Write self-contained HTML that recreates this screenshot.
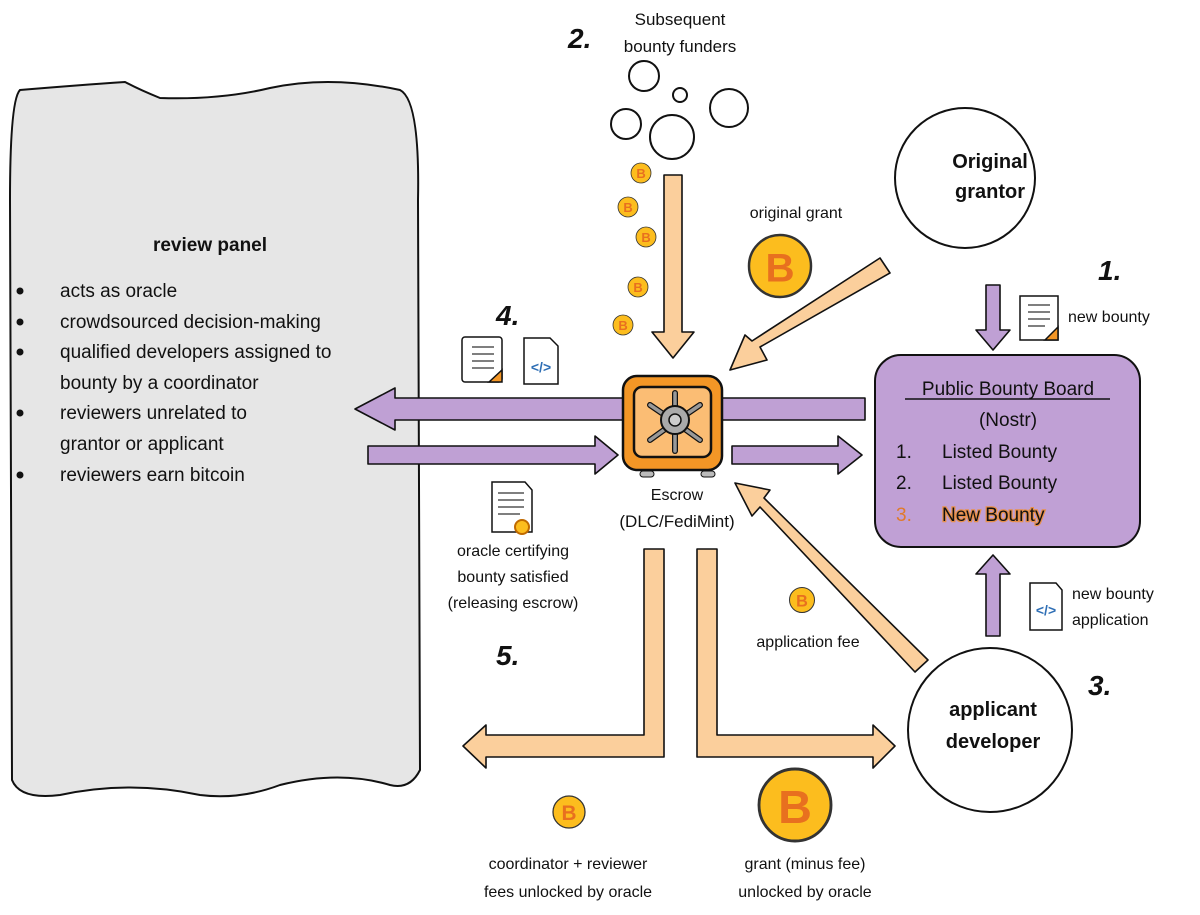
<!DOCTYPE html>
<html><head><meta charset="utf-8"><style>
html,body{margin:0;padding:0;background:#fff;}
svg{display:block;}
text{font-family:"Liberation Sans",sans-serif;fill:#111;}
</style></head><body>
<svg width="1200" height="915" viewBox="0 0 1200 915" xmlns="http://www.w3.org/2000/svg">
<defs>
<g id="coin"><circle r="10" fill="#fcbd1e" stroke="#333" stroke-width="0.8"/><text x="0" y="5" font-size="13" text-anchor="middle" font-weight="bold" style="fill:#e8701f">B</text></g>
</defs>
<path d="M20,90 Q80,85 125,82 Q140,90 160,98 Q220,100 270,88 Q330,75 400,90 Q420,100 418,200 L420,770 Q410,790 390,785 Q340,770 280,785 Q240,800 200,795 Q130,780 60,795 Q20,800 12,780 L10,200 Q10,100 20,90 Z" fill="#e6e6e6" stroke="#111" stroke-width="2"/>
<text x="210" y="251" font-size="19" text-anchor="middle" font-weight="bold">review panel</text>
<g font-size="19">
<circle cx="20" cy="291" r="3.5" fill="#111"/><text x="60" y="297">acts as oracle</text>
<circle cx="20" cy="322" r="3.5" fill="#111"/><text x="60" y="328">crowdsourced decision-making</text>
<circle cx="20" cy="352" r="3.5" fill="#111"/><text x="60" y="358">qualified developers assigned to</text>
<text x="60" y="389">bounty by a coordinator</text>
<circle cx="20" cy="413" r="3.5" fill="#111"/><text x="60" y="419">reviewers unrelated to</text>
<text x="60" y="450">grantor or applicant</text>
<circle cx="20" cy="475" r="3.5" fill="#111"/><text x="60" y="481">reviewers earn bitcoin</text>
</g>
<text x="680" y="25" font-size="17" text-anchor="middle">Subsequent</text>
<text x="680" y="52" font-size="17" text-anchor="middle">bounty funders</text>
<text x="568" y="48" font-size="28" font-weight="bold" font-style="italic">2.</text>
<g fill="none" stroke="#111" stroke-width="2">
<circle cx="644" cy="76" r="15"/><circle cx="680" cy="95" r="7"/><circle cx="729" cy="108" r="19"/><circle cx="626" cy="124" r="15"/><circle cx="672" cy="137" r="22"/>
</g>
<circle cx="965" cy="178" r="70" fill="#fff" stroke="#111" stroke-width="2"/>
<text x="990" y="168" font-size="20" text-anchor="middle" font-weight="bold">Original</text>
<text x="990" y="198" font-size="20" text-anchor="middle" font-weight="bold">grantor</text>
<text x="1098" y="280" font-size="28" font-weight="bold" font-style="italic">1.</text>
<circle cx="990" cy="730" r="82" fill="#fff" stroke="#111" stroke-width="2"/>
<text x="993" y="716" font-size="20" text-anchor="middle" font-weight="bold">applicant</text>
<text x="993" y="748" font-size="20" text-anchor="middle" font-weight="bold">developer</text>
<text x="1088" y="695" font-size="28" font-weight="bold" font-style="italic">3.</text>
<g fill="#fbcf9c" stroke="#111" stroke-width="1.6" stroke-linejoin="round">
<path d="M664,175 L682,175 L682,332 L694,332 L673,358 L652,332 L664,332 Z"/>
<path d="M880,258 L890,273 L760,347 L767,360 L730,370 L745,335 L752,341 Z"/>
<path d="M928,660 L915,672 L760,507 L752,516 L735,483 L770,490 L764,498 Z"/>
<path d="M644,549 L664,549 L664,757 L486,757 L486,768 L463,746 L486,725 L486,735 L644,735 Z"/>
<path d="M697,549 L717,549 L717,735 L873,735 L873,725 L895,746 L873,768 L873,757 L697,757 Z"/>
</g>
<g fill="#bfa0d4" stroke="#111" stroke-width="1.6" stroke-linejoin="round">
<path d="M865,398 L865,420 L395,420 L395,430 L355,409 L395,388 L395,398 Z"/>
<path d="M368,446 L595,446 L595,436 L618,455 L595,474 L595,464 L368,464 Z"/>
<path d="M732,446 L838,446 L838,436 L862,455 L838,474 L838,464 L732,464 Z"/>
<path d="M986,285 L1000,285 L1000,330 L1010,330 L993,350 L976,330 L986,330 Z"/>
<path d="M986,636 L1000,636 L1000,574 L1010,574 L993,555 L976,574 L986,574 Z"/>
</g>
<rect x="875" y="355" width="265" height="192" rx="26" fill="#c0a0d5" stroke="#111" stroke-width="2"/>
<text x="1008" y="395" font-size="19" text-anchor="middle">Public Bounty Board</text>
<line x1="905" y1="399" x2="1110" y2="399" stroke="#111" stroke-width="1.5"/>
<text x="1008" y="426" font-size="19" text-anchor="middle">(Nostr)</text>
<text x="896" y="458" font-size="19">1.</text><text x="942" y="458" font-size="19">Listed Bounty</text>
<text x="896" y="489" font-size="19">2.</text><text x="942" y="489" font-size="19">Listed Bounty</text>
<text x="896" y="521" font-size="19" style="fill:#e07a2a">3.</text><text x="942" y="521" font-size="19" stroke="#e8904a" stroke-width="2.5" paint-order="stroke">New Bounty</text>
<rect x="623" y="376" width="99" height="94" rx="14" fill="#f39626" stroke="#111" stroke-width="2.5"/>
<rect x="634" y="387" width="77" height="70" rx="8" fill="#fbbd74" stroke="#111" stroke-width="2.5"/>
<rect x="640" y="471" width="14" height="6" rx="3" fill="#bbb" stroke="#111"/>
<rect x="701" y="471" width="14" height="6" rx="3" fill="#bbb" stroke="#111"/>
<g stroke="#111" stroke-width="6" stroke-linecap="round"><line x1="675" y1="422" x2="675" y2="393"/><line x1="675" y1="422" x2="675" y2="451"/><line x1="675" y1="422" x2="650" y2="405"/><line x1="675" y1="422" x2="700" y2="405"/><line x1="675" y1="422" x2="650" y2="440"/><line x1="675" y1="422" x2="700" y2="440"/></g>
<g stroke="#999" stroke-width="3.5" stroke-linecap="round"><line x1="675" y1="422" x2="675" y2="393"/><line x1="675" y1="422" x2="675" y2="451"/><line x1="675" y1="422" x2="650" y2="405"/><line x1="675" y1="422" x2="700" y2="405"/><line x1="675" y1="422" x2="650" y2="440"/><line x1="675" y1="422" x2="700" y2="440"/></g>
<circle cx="675" cy="420" r="14" fill="#aaa" stroke="#111" stroke-width="2"/>
<circle cx="675" cy="420" r="6" fill="#ccc" stroke="#111" stroke-width="1.5"/>
<text x="677" y="500" font-size="16" text-anchor="middle">Escrow</text>
<text x="677" y="527" font-size="17" text-anchor="middle">(DLC/FediMint)</text>
<g stroke="#111" stroke-width="1.5">
<rect x="462" y="337" width="40" height="45" rx="3" fill="#fff"/><path d="M489,382 L502,370 L502,382 Z" fill="#f39626"/>
<path d="M524,338 L550,338 L558,346 L558,384 L524,384 Z" fill="#fff"/>
<path d="M1020,296 L1058,296 L1058,340 L1020,340 Z" fill="#fff"/><path d="M1045,340 L1058,327 L1058,340 Z" fill="#f39626"/>
<path d="M1030,583 L1056,583 L1062,590 L1062,630 L1030,630 Z" fill="#fff"/>
<path d="M492,482 L525,482 L532,490 L532,532 L492,532 Z" fill="#fff"/>
</g>
<g stroke="#333" stroke-width="1.3"><line x1="472" y1="347" x2="494" y2="347"/><line x1="472" y1="354" x2="494" y2="354"/><line x1="472" y1="361" x2="494" y2="361"/><line x1="472" y1="368" x2="494" y2="368"/>
<line x1="1028" y1="305" x2="1050" y2="305"/><line x1="1028" y1="312" x2="1050" y2="312"/><line x1="1028" y1="319" x2="1050" y2="319"/><line x1="1028" y1="326" x2="1045" y2="326"/>
<line x1="498" y1="493" x2="524" y2="493"/><line x1="498" y1="500" x2="524" y2="500"/><line x1="498" y1="507" x2="524" y2="507"/><line x1="498" y1="514" x2="520" y2="514"/></g>
<circle cx="522" cy="527" r="7" fill="#fcbd1e" stroke="#c06a00" stroke-width="2"/>
<text x="541" y="372" font-size="14" text-anchor="middle" font-weight="bold" style="fill:#2f6fb5">&lt;/&gt;</text>
<text x="1046" y="615" font-size="14" text-anchor="middle" font-weight="bold" style="fill:#2f6fb5">&lt;/&gt;</text>
<text x="496" y="325" font-size="28" font-weight="bold" font-style="italic">4.</text>
<text x="496" y="665" font-size="28" font-weight="bold" font-style="italic">5.</text>
<text x="796" y="218" font-size="16" text-anchor="middle">original grant</text>
<text x="1068" y="322" font-size="16">new bounty</text>
<text x="1072" y="599" font-size="16">new bounty</text>
<text x="1072" y="625" font-size="16">application</text>
<text x="808" y="647" font-size="16" text-anchor="middle">application fee</text>
<text x="513" y="556" font-size="16" text-anchor="middle">oracle certifying</text>
<text x="513" y="582" font-size="16" text-anchor="middle">bounty satisfied</text>
<text x="513" y="608" font-size="16" text-anchor="middle">(releasing escrow)</text>
<text x="568" y="869" font-size="16" text-anchor="middle">coordinator + reviewer</text>
<text x="568" y="897" font-size="16" text-anchor="middle">fees unlocked by oracle</text>
<text x="805" y="869" font-size="16" text-anchor="middle">grant (minus fee)</text>
<text x="805" y="897" font-size="16" text-anchor="middle">unlocked by oracle</text>
<use href="#coin" transform="translate(641,173)"/>
<use href="#coin" transform="translate(628,207)"/>
<use href="#coin" transform="translate(646,237)"/>
<use href="#coin" transform="translate(638,287)"/>
<use href="#coin" transform="translate(623,325)"/>
<use href="#coin" transform="translate(802,600) scale(1.25)"/>
<use href="#coin" transform="translate(569,812) scale(1.6)"/>
<use href="#coin" transform="translate(780,266) scale(3.1)"/>
<use href="#coin" transform="translate(795,805) scale(3.6)"/>
</svg>
</body></html>
